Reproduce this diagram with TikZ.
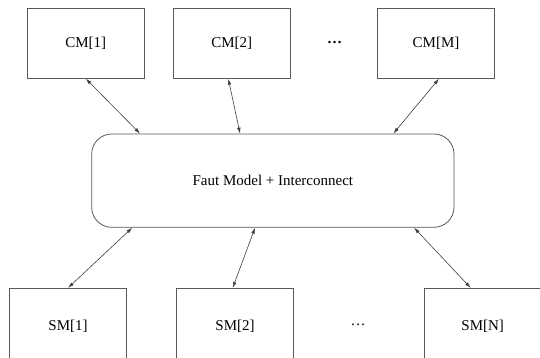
\documentclass[tikz,border=0pt]{standalone}
\usepackage{fontspec}
\setmainfont{Liberation Serif}
\usetikzlibrary{arrows.meta}
\begin{document}
\begin{tikzpicture}[x=1pt,y=-1pt,
  every node/.style={font=\fontsize{15}{18}\selectfont},
  modbox/.style={draw=black!65,line width=0.8pt,minimum width=117pt,inner sep=0pt},
  cmbox/.style={modbox,minimum height=70pt},
  smbox/.style={modbox,minimum height=76pt},
  fmbox/.style={draw=black!65,line width=0.8pt,rounded corners=20pt,minimum width=362.3pt,minimum height=93.3pt,inner sep=0pt},
  link/.style={draw=black!75,line width=0.6pt,{Latex[length=6pt,width=3.6pt]}-{Latex[length=6pt,width=3.6pt]}},
  dotsnode/.style={inner sep=0pt}]
\clip (0,0) rectangle (540,358);
\fill[white] (0,0) rectangle (540,358);
% top modules
\node[cmbox] (cm1) at (85.8,43.3) {CM[1]};
\node[cmbox] (cm2) at (231.8,43.3) {CM[2]};
\node[cmbox] (cmM) at (436,43.3) {CM[M]};
\node[dotsnode] (dtop) at (334.7,42) {\textbf{…}};
% central block
\node[fmbox] (fm) at (272.85,180.65) {Faut Model + Interconnect};
% bottom modules
\node[smbox] (sm1) at (68,326.3) {SM[1]};
\node[smbox] (sm2) at (235,326.3) {SM[2]};
\node[smbox] (smN) at (482.7,326.3) {SM[N]};
\node[dotsnode] (dbot) at (358,325) {…};
% connectors
\draw[link] (cm1.south) -- ([xshift=-132.8pt]fm.north);
\draw[link] ([xshift=-3.5pt]cm2.south) -- ([xshift=-32.8pt]fm.north);
\draw[link] ([xshift=3pt]cmM.south) -- ([xshift=120.5pt]fm.north);
\draw[link] ([xshift=-140.6pt]fm.south) -- (sm1.north);
\draw[link] ([xshift=-17.8pt]fm.south) -- ([xshift=-2.3pt]sm2.north);
\draw[link] ([xshift=141.2pt]fm.south) -- ([xshift=-12pt]smN.north);
\end{tikzpicture}
\end{document}
